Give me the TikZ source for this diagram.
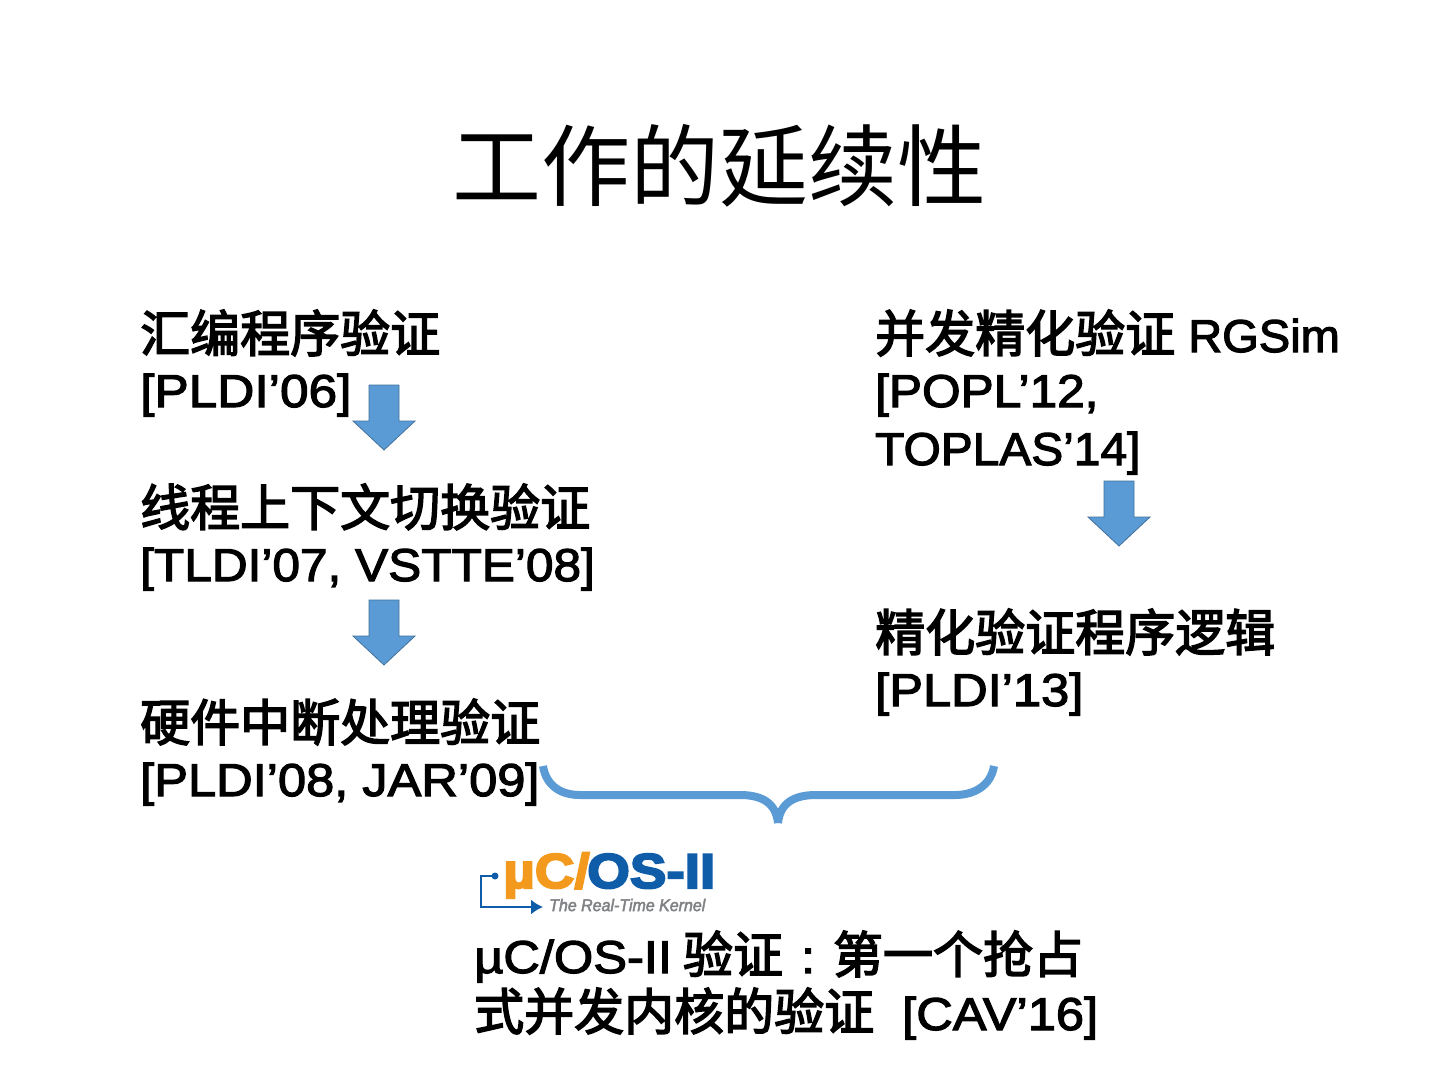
\documentclass[tikz,border=0pt]{standalone}
\usepackage{fontspec}
\usepackage{graphicx}
\usetikzlibrary{arrows.meta}
\setmainfont{Noto Sans CJK SC}
\newfontfamily\cjkb[FakeBold=3]{Noto Sans CJK SC}
\newfontfamily\latf[FakeStretch=1.1,FakeBold=2.6]{Liberation Sans}
\newfontfamily\logofont[FakeBold=4,FakeStretch=1.12]{Liberation Sans Bold}
\newfontfamily\kernelfont[FakeStretch=0.94,FakeBold=2.5]{Liberation Sans}
\newcommand{\la}[2][1]{\scalebox{#1}[1]{\latf\fontsize{46}{46}\selectfont #2}}
\definecolor{arrowblue}{HTML}{5B9BD5}
\definecolor{arrowedge}{HTML}{41719C}
\definecolor{logoblue}{HTML}{0F5CA8}
\definecolor{logoorange}{HTML}{F39A1E}
\definecolor{logogray}{HTML}{808285}
\tikzset{
  x=1pt,y=-1pt,
  body/.style={anchor=base west,inner sep=0,font=\cjkb\fontsize{50}{50}\selectfont,text=black},
  arrowshape/.style={fill=arrowblue,draw=arrowedge,line width=.8pt},
  bracestroke/.style={arrowblue,line width=8pt}
}
\newcommand{\dnarrow}[2]{\draw[arrowshape] (#1-15,#2) -- (#1+15,#2) -- (#1+15,#2+36) -- (#1+31,#2+36) -- (#1,#2+65) -- (#1-31,#2+36) -- (#1-15,#2+36) -- cycle;}
\begin{document}
\begin{tikzpicture}
\useasboundingbox (0,0) rectangle (1440,1080);
\fill[white] (0,0) rectangle (1440,1080);
\node[anchor=center,inner sep=0,font=\fontsize{89}{89}\selectfont] (title) at (719,166) {工作的延续性};
\node[body] (a1) at (140,352) {汇编程序验证};
\node[body] (a2) at (140,407) {\la[1.015]{[PLDI’06]}};
\node[body] (b1) at (140,526) {线程上下文切换验证};
\node[body] (b2) at (140,581) {\la[.98]{[TLDI’07, VSTTE’08]}};
\node[body] (c1) at (140,741) {硬件中断处理验证};
\node[body] (c2) at (140,796) {\la{[PLDI’08, JAR’09]}};
\node[body] (d1) at (875,352) {并发精化验证\hspace{13pt}\la[.93]{RGSim}};
\node[body] (d2) at (875,407) {\la[.98]{[POPL’12,}};
\node[body] (d3) at (875,465) {\la[.946]{TOPLAS’14]}};
\node[body] (e1) at (875,651) {精化验证程序逻辑};
\node[body] (e2) at (875,706) {\la{[PLDI’13]}};
\node[body] (f1) at (474,973) {\la{µC/OS-II}\hspace{11pt}验证\makebox[50pt][c]{\la{:}}第一个抢占};
\node[body] (f2) at (474,1030) {式并发内核的验证\hspace{28pt}\la{[CAV’16]}};
\dnarrow{384}{385}
\dnarrow{384}{600}
\dnarrow{1119}{481}
\draw[bracestroke] (543,766) .. controls (546,785) and (560,795) .. (580,795) -- (740,795) .. controls (762,795) and (776,803) .. (778,823);
\draw[bracestroke] (778,823) .. controls (780,803) and (794,795) .. (816,795) -- (955,795) .. controls (975,795) and (991,785) .. (994,766);
\node[anchor=base west,inner sep=0,text=logoorange,font=\logofont\fontsize{49}{49}\selectfont] (m) at (503,888) {µC/};
\node[anchor=base west,inner sep=0,text=logoblue,font=\logofont\fontsize{49}{49}\selectfont] (os) at (587,888) {OS-II};
\node[anchor=west,inner sep=0,text=logogray,font=\kernelfont\itshape\fontsize{17}{17}\selectfont] (k) at (549,905) {The Real-Time Kernel};
\fill[logoblue] (495,876) circle (3.5pt);
\coordinate (kc) at (481,876);
\coordinate (ks) at (481,907);
\coordinate (kt) at (543,907);
\draw[logoblue,line width=2pt,-{Latex[length=12pt,width=15pt]}] (495,876) -- (kc) -- (ks) -- (kt);
\end{tikzpicture}
\end{document}
